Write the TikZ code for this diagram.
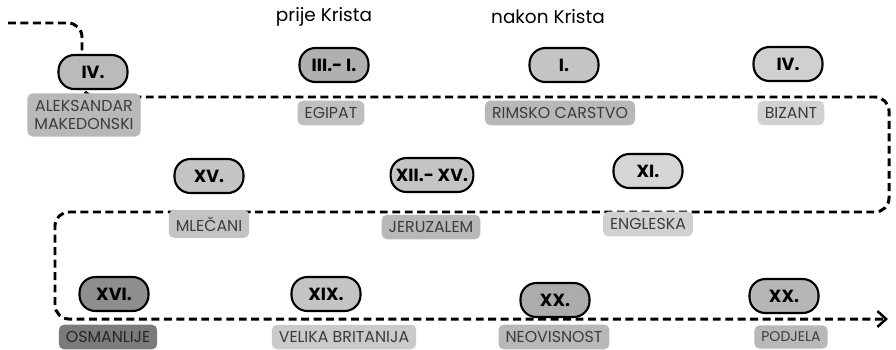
\documentclass[tikz,border=0pt]{standalone}
\usepackage{fontspec}
\setmainfont{Poppins}
\usetikzlibrary{arrows.meta}

\definecolor{pillgrey}{HTML}{C4C4C4}
\definecolor{pilldark}{HTML}{8E8E8E}
\definecolor{taggrey}{HTML}{B8B8B8}
\definecolor{tagdark}{HTML}{7B7B7B}
\definecolor{tagtext}{HTML}{3C3C3C}

\tikzset{
  pill/.style={draw=black, line width=1.2pt, fill=#1, rounded corners=9pt,
    minimum width=1.38cm, minimum height=0.68cm, inner xsep=3pt,
    font=\fontsize{10}{12}\selectfont\bfseries},
  pill/.default=pillgrey,
  tag/.style={fill=#1, rounded corners=3pt, text=tagtext, align=center,
    font=\fontsize{9}{10.5}\selectfont, inner xsep=4pt, inner ysep=3.8pt},
  tag/.default=taggrey,
  timeline/.style={dash pattern=on 4.5pt off 2.6pt, line width=1.7pt,
    rounded corners=8pt}
}

\begin{document}
\begin{tikzpicture}[x=0.02cm, y=-0.02cm]
    \useasboundingbox (0,0) rectangle (896,349);

    % 时间线
    \coordinate (start) at (8,23);
    \coordinate (c1) at (82,23);
    \coordinate (c2) at (82,97);
    \coordinate (c3) at (889,97);
    \coordinate (c4) at (889,212);
    \coordinate (c5) at (55,212);
    \coordinate (c6) at (55,319);
    \coordinate (end) at (888,319);
    \draw[timeline, -{Straight Barb[length=5pt, width=9pt, line width=1.4pt]}]
        (start) -- (c1) -- (c2) -- (c3) -- (c4) -- (c5) -- (c6) -- (end);

    % 标题
    \node[font=\fontsize{10.5}{12}\selectfont] (prije) at (324,17) {prije Krista};
    \node[font=\fontsize{10.5}{12}\selectfont] (nakon) at (548,17) {nakon Krista};

    % 第一行
    \node[pill=pillgrey!95!black] (aleksandar) at (93,72) {IV.};
    \node[pill=pillgrey!90!black] (egipat) at (334,65) {III.- I.};
    \node[pill] (rim) at (564,65) {I.};
    \node[pill=pillgrey!80!white] (bizant) at (788,64) {IV.};
    \node[tag] (aleksandar-t) at (84,115) {ALEKSANDAR\\MAKEDONSKI};
    \node[tag=taggrey!90!white] (egipat-t) at (331,113) {EGIPAT};
    \node[tag] (rim-t) at (560,113) {RIMSKO CARSTVO};
    \node[tag=taggrey!65!white] (bizant-t) at (791,113) {BIZANT};

    % 第二行
    \node[pill] (mlecani) at (209,176) {XV.};
    \node[pill] (jeruzalem) at (432,175) {XII.- XV.};
    \node[pill=pillgrey!70!white] (engleska) at (648,171) {XI.};
    \node[tag=taggrey!85!white] (mlecani-t) at (209,224) {MLEČANI};
    \node[tag] (jeruzalem-t) at (431,227) {JERUZALEM};
    \node[tag=taggrey!65!white] (engleska-t) at (648,224) {ENGLESKA};

    % 第三行
    \node[pill=pilldark] (osmanlije) at (114,294) {XVI.};
    \node[pill] (britanija) at (326,294) {XIX.};
    \node[pill=pillgrey!88!black] (neovisnost) at (555,300) {XX.};
    \node[pill=pillgrey!93!black] (podjela) at (784,296) {XX.};
    \node[tag=tagdark, text=black!85] (osmanlije-t) at (108,337) {OSMANLIJE};
    \node[tag=taggrey!75!white] (britanija-t) at (344,337) {VELIKA BRITANIJA};
    \node[tag] (neovisnost-t) at (554,337) {NEOVISNOST};
    \node[tag, font=\fontsize{8}{9}\selectfont] (podjela-t) at (791,337) {PODJELA};
\end{tikzpicture}
\end{document}
